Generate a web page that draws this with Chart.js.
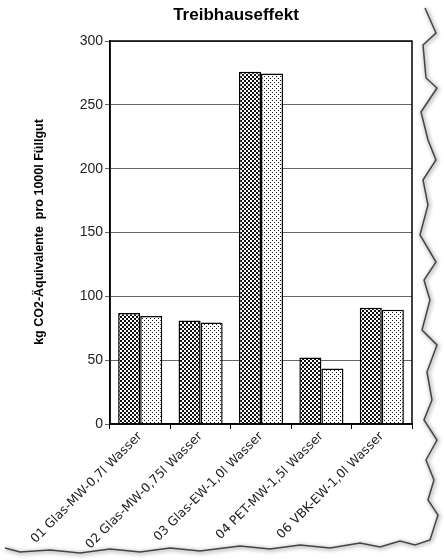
<!DOCTYPE html>
<html>
<head>
<meta charset="utf-8">
<script src="https://cdn.jsdelivr.net/npm/chart.js@4"></script>
<style>
  body { margin: 0; background: #fff; }
  canvas { display: block; }
</style>
</head>
<body>
<canvas id="chart" width="444" height="560"></canvas>
<script>
// Categories and values
const categories = [
  "01 Glas-MW-0,7l Wasser",
  "02 Glas-MW-0,75l Wasser",
  "03 Glas-EW-1,0l Wasser",
  "04 PET-MW-1,5l Wasser",
  "06 VBK-EW-1,0l Wasser",
];
const seriesA = [87, 81, 276, 52, 91]; // dark checkered bars
const seriesB = [84.5, 79.5, 274.5, 43.5, 89.5]; // light dotted bars
const yTicks = [0, 50, 100, 150, 200, 250, 300];
const chartTitle = "Treibhauseffekt";
const yTitle = "kg CO2-Äquivalente  pro 1000l Füllgut";

// Build small fill patterns like the scanned hatching
function makePattern(cells, size) {
  const c = document.createElement("canvas");
  c.width = size;
  c.height = size;
  const g = c.getContext("2d");
  g.fillStyle = "#fff";
  g.fillRect(0, 0, size, size);
  g.fillStyle = "#111";
  cells.forEach(([x, y, w, h]) => g.fillRect(x, y, w, h));
  return g.createPattern(c, "repeat");
}
const ctx = document.getElementById("chart").getContext("2d");
const checker = makePattern([[0, 0, 2, 2], [2, 2, 2, 2]], 4);
const dots = makePattern([[0, 0, 1, 1], [2, 2, 1, 1]], 4);

// torn paper edge of the scan (decoration only)
const tornRight = [[425, 8], [436, 33], [423, 45], [426, 78], [437, 88], [421, 112],
  [428, 140], [436, 160], [423, 180], [428, 205], [420, 235], [436, 262], [424, 280],
  [430, 300], [422, 330], [437, 345], [427, 372], [432, 400], [424, 420], [437, 440],
  [426, 460], [434, 480], [428, 500], [438, 515], [430, 540]];
const tornBottom = [[415, 545], [400, 541], [380, 547], [360, 543], [330, 548],
  [300, 545], [270, 549], [240, 546], [200, 551], [170, 548], [140, 552], [110, 549],
  [80, 553], [50, 550], [20, 552], [5, 548]];

// Frame round the plot area, chart title, y title and paper edge
const decor = {
  id: "decor",
  afterDatasetsDraw(chart) {
    const a = chart.chartArea;
    const g = chart.ctx;
    g.save();
    g.strokeStyle = "#000";
    g.lineWidth = 1.5;
    g.strokeRect(a.left, a.top, a.right - a.left, a.bottom - a.top);

    g.fillStyle = "#000";
    g.textAlign = "center";
    g.textBaseline = "middle";
    g.font = "bold 17px 'Liberation Sans'";
    g.fillText(chartTitle, 236, 15);

    g.translate(40, 232);
    g.rotate(-Math.PI / 2);
    g.font = "bold 12.5px 'Liberation Sans'";
    g.fillText(yTitle, 0, 0);
    g.restore();

    g.save();
    g.strokeStyle = "#444";
    g.lineWidth = 1.5;
    g.shadowColor = "rgba(0,0,0,0.6)";
    g.shadowBlur = 4;
    g.shadowOffsetX = 1;
    g.shadowOffsetY = 1;
    g.beginPath();
    tornRight.concat(tornBottom).forEach(([x, y], i) => {
      if (i === 0) g.moveTo(x, y);
      else g.lineTo(x, y);
    });
    g.stroke();
    g.restore();
  },
};

new Chart(ctx, {
  type: "bar",
  data: {
    labels: categories,
    datasets: [
      {
        data: seriesA,
        backgroundColor: checker,
        borderColor: "#000",
        borderWidth: 1.5,
      },
      {
        data: seriesB,
        backgroundColor: dots,
        borderColor: "#000",
        borderWidth: 1.5,
      },
    ],
  },
  options: {
    responsive: false,
    animation: false,
    layout: { padding: { top: 41, right: 32, bottom: 0, left: 0 } },
    plugins: {
      legend: { display: false },
      tooltip: { enabled: false },
      title: { display: false },
    },
    datasets: {
      bar: { categoryPercentage: 0.73, barPercentage: 1 },
    },
    scales: {
      x: {
        afterFit(scale) {
          scale.height = 136;
        },
        grid: {
          offset: true,
          drawOnChartArea: false,
          color: "#000",
          tickLength: 5,
        },
        border: { color: "#000", width: 1.5 },
        ticks: {
          color: "#222",
          maxRotation: 45,
          minRotation: 45,
          padding: 0,
          font: { family: "DejaVu Sans", size: 12.5 },
        },
      },
      y: {
        min: 0,
        max: 300,
        afterBuildTicks(scale) {
          scale.ticks = yTicks.map((v) => ({ value: v }));
        },
        afterFit(scale) {
          scale.width = 110;
        },
        grid: {
          color: "#666",
          lineWidth: 1,
          tickLength: 5,
        },
        border: { color: "#000", width: 1.5 },
        ticks: {
          color: "#222",
          padding: 2,
          font: { family: "Liberation Sans", size: 14 },
        },
      },
    },
  },
  plugins: [decor],
});
</script>
</body>
</html>
